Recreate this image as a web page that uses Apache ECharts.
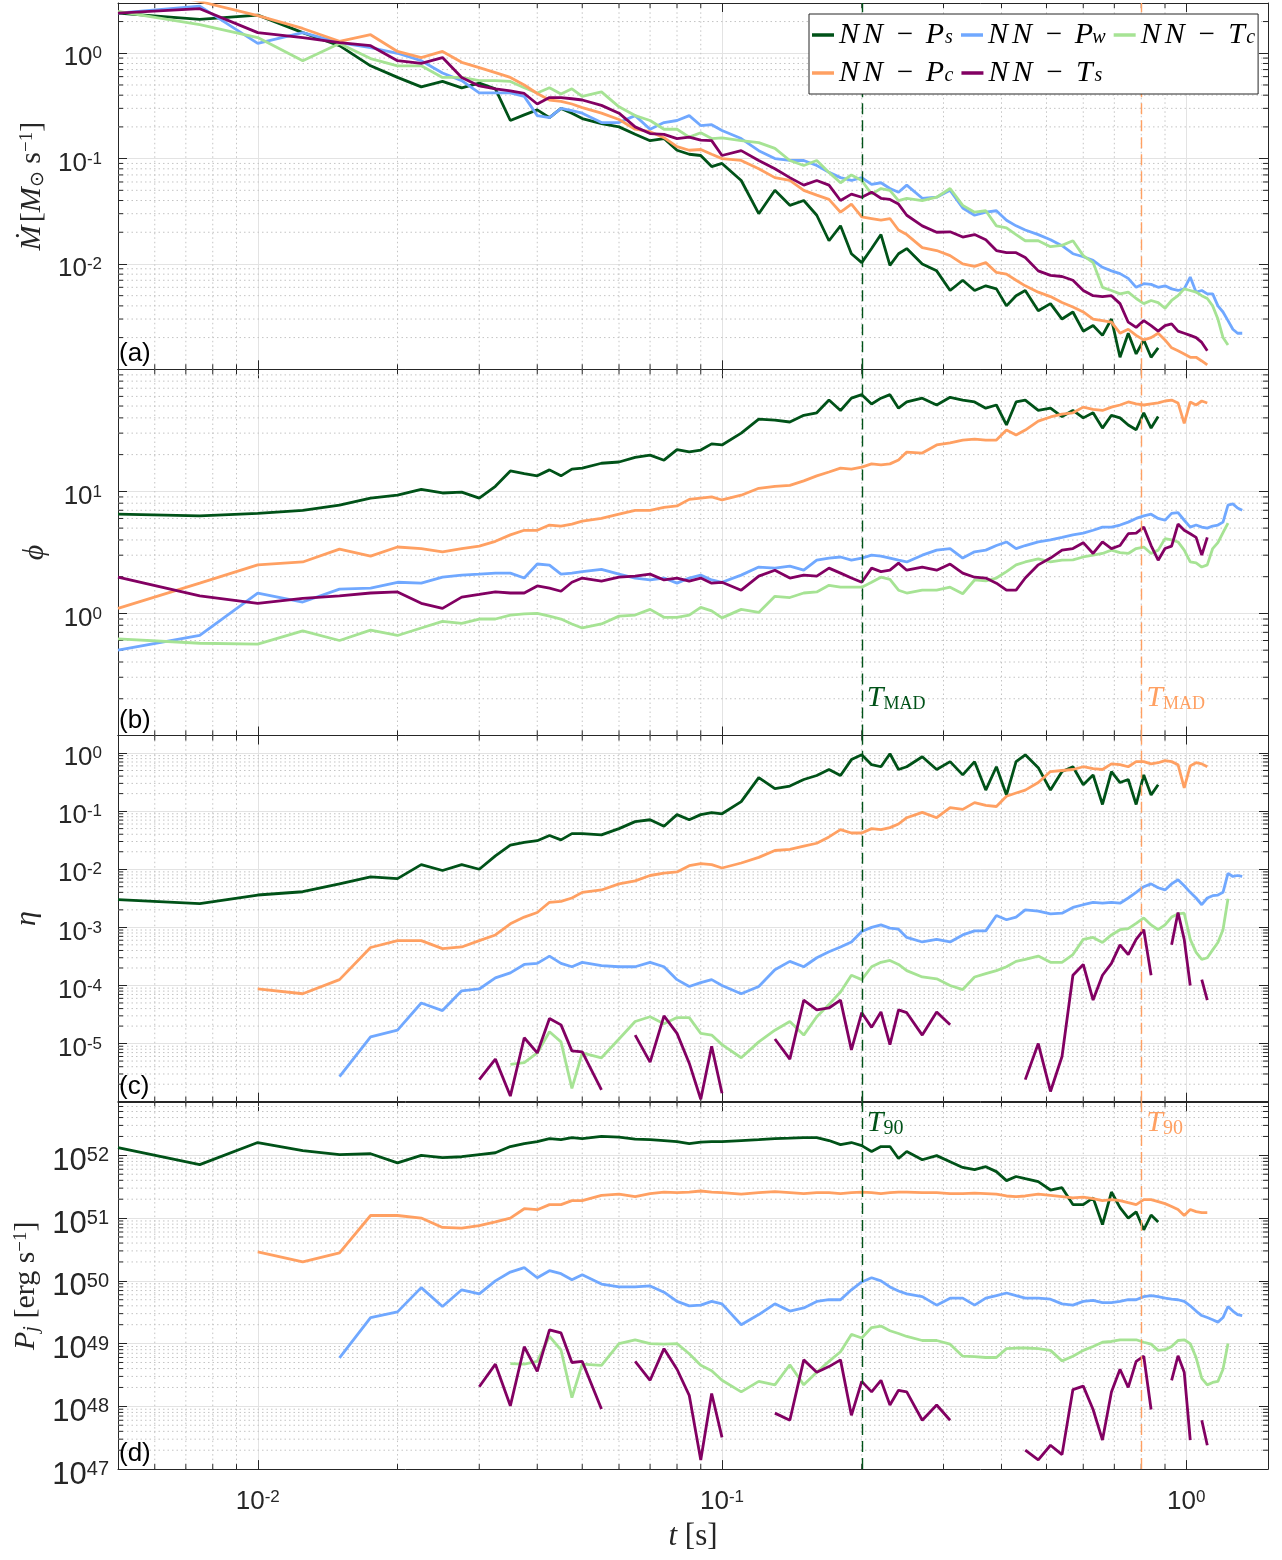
<!DOCTYPE html>
<html><head><meta charset="utf-8">
<script src="https://cdn.jsdelivr.net/npm/echarts@6/dist/echarts.min.js"></script>
<style>html,body{margin:0;padding:0;background:#fff}#c{width:1282px;height:1560px}</style>
</head><body><div id="c"></div>
<script>
// ---------- time samples [s] ----------
const tGrid = [0.005,0.0075,0.01,0.0125,0.015,0.0175,0.02,0.0225,0.025,0.0275,0.03,0.0325,0.035,0.0375,0.04,0.0425,0.045,0.0475,0.05,0.055,0.06,0.065,0.07,0.075,0.08,0.085,0.09,0.095,0.1,0.11,0.12,0.13,0.14,0.15,0.16,0.17,0.18,0.19,0.2,0.21,0.22,0.23,0.24,0.25,0.27,0.29,0.31,0.33,0.35,0.37,0.39,0.41,0.43,0.45,0.48,0.51,0.54,0.57,0.6,0.63,0.66,0.69,0.72,0.75,0.78,0.81,0.84,0.87,0.9,0.93,0.96,0.99,1.02,1.05,1.08,1.11,1.14,1.17,1.2,1.23,1.26,1.29,1.32];

// ---------- (a) accretion rate ----------
const a_Ps = [2.4,2.1,2.3,1.57,1.18,0.76,0.59,0.48,0.54,0.47, 0.52,0.46,0.23,0.26,0.29,0.245,0.30,0.27,0.24,0.215, 0.20,0.17,0.148,0.155,0.12,0.11,0.107,0.084,0.09,0.062, 0.030,0.050,0.036,0.040,0.029,0.0166,0.023,0.0125,0.0103,0.014, 0.019,0.0097,0.0125,0.014,0.010,0.0086,0.0056,0.007,0.0056,0.0062, 0.0058,0.004,0.005,0.0056,0.0036,0.0042,0.003,0.0035,0.0023,0.0026, 0.0021,0.003,0.0013,0.0022,0.0014,0.0019,0.0013,0.0016];
const a_Pw = [2.4,2.8,1.24,1.57,1.26,1.13,1.0,0.85,0.65,0.55, 0.42,0.42,0.42,0.39,0.256,0.245,0.30,0.285,0.27,0.22, 0.22,0.256,0.19,0.22,0.23,0.256,0.206,0.21,0.185,0.155, 0.119,0.10,0.096,0.096,0.086,0.074,0.066,0.062,0.066,0.057, 0.059,0.052,0.048,0.056,0.042,0.043,0.050,0.034,0.029,0.031, 0.032,0.026,0.023,0.021,0.019,0.017,0.0149,0.0125,0.0117,0.0108, 0.0093,0.0086,0.0081,0.0073,0.006,0.0065,0.0064,0.006,0.0062,0.0058, 0.0056,0.0058,0.0075,0.0054,0.0056,0.0052,0.0052,0.004,0.0035,0.0029, 0.0024,0.0022,0.0022];
const a_Tc = [2.5,1.87,1.41,0.85,1.24,0.89,0.76,0.76,0.59,0.59, 0.55,0.55,0.54,0.47,0.42,0.47,0.41,0.46,0.39,0.43, 0.31,0.256,0.23,0.19,0.19,0.16,0.176,0.155,0.157,0.148, 0.142,0.125,0.096,0.086,0.096,0.074,0.059,0.070,0.062,0.046, 0.052,0.050,0.040,0.042,0.040,0.043,0.052,0.036,0.031,0.032, 0.023,0.022,0.019,0.0166,0.0166,0.0146,0.015,0.0166,0.012,0.0103, 0.006,0.0056,0.0052,0.0054,0.0047,0.0042,0.0045,0.0043,0.0038,0.0045, 0.005,0.0058,0.0056,0.0054,0.005,0.0047,0.004,0.003,0.002,0.0017];
const a_Pc = [4.6,3.1,2.28,1.72,1.3,1.5,1.04,0.91,1.04,0.82, 0.73,0.655,0.59,0.50,0.415,0.36,0.35,0.33,0.305,0.27, 0.235,0.19,0.18,0.158,0.13,0.12,0.122,0.11,0.10,0.096, 0.08,0.066,0.062,0.05,0.045,0.041,0.031,0.037,0.028,0.027, 0.026,0.027,0.021,0.019,0.0143,0.0134,0.012,0.010,0.0095,0.0103, 0.0083,0.008,0.007,0.0062,0.0054,0.0049,0.0043,0.0039,0.0035,0.003, 0.0029,0.0028,0.0022,0.0024,0.0021,0.0019,0.002,0.0022,0.0019,0.0016, 0.0015,0.0014,0.0013,0.0013,0.0012,0.0011];
const a_Ts = [2.4,2.65,1.57,1.41,1.26,1.18,0.85,0.80,0.91,0.59, 0.49,0.46,0.44,0.415,0.33,0.38,0.38,0.37,0.36,0.32, 0.27,0.20,0.173,0.17,0.155,0.16,0.15,0.148,0.107,0.119, 0.096,0.08,0.066,0.056,0.062,0.056,0.04,0.046,0.043,0.048, 0.042,0.041,0.037,0.029,0.023,0.020,0.0202,0.018,0.019,0.017, 0.0134,0.0128,0.0128,0.0115,0.0086,0.0078,0.0076,0.007,0.0056,0.005, 0.0049,0.005,0.0042,0.0028,0.0025,0.0029,0.0026,0.0023,0.0026,0.0027, 0.0023,0.0022,0.0021,0.002,0.0018,0.0015];

// ---------- (b) magnetic flux phi ----------
const b_Ps = [6.5,6.3,6.6,7.0,7.7,8.8,9.3,10.4,9.7,9.85, 8.8,11.0,14.7,14.0,13.4,15.0,13.4,15.2,15.5,17.0, 17.4,19.0,19.8,18.0,22.0,21.1,21.8,24.5,24.0,30, 39,38.4,37,42,44,56,46,58,62,52, 58,62,48,54,58,51,59,56,54,48, 51,35,54,56,46,48,41,46,40,44, 33,42,40,35,32,44,33,41];
const b_Pw = [0.50,0.66,1.47,1.24,1.58,1.61,1.8,1.77,1.98,2.06, 2.1,2.14,2.14,1.95,2.54,2.49,2.1,2.14,2.2,2.3, 2.1,1.95,1.88,1.95,1.77,1.95,2.06,1.88,1.8,2.06, 2.4,2.35,2.44,2.26,2.73,2.84,2.9,2.73,2.84,3.0, 2.95,2.84,2.73,2.64,3.0,3.3,3.4,2.84,3.2,3.3, 3.6,3.85,3.4,3.6,3.85,4.0,4.2,4.4,4.55,4.8, 5.1,5.1,5.3,5.6,6.0,6.3,6.5,6.0,5.8,6.6, 6.7,5.8,5.1,5.3,5.1,5.0,5.2,5.3,5.6,7.7, 7.9,7.3,7.0];
const b_Tc = [0.62,0.57,0.56,0.72,0.60,0.73,0.66,0.76,0.86,0.83, 0.90,0.90,0.97,0.99,1.0,0.95,0.90,0.82,0.76,0.82, 0.95,0.97,1.08,0.93,0.93,0.97,1.12,1.05,0.92,1.08, 1.02,1.38,1.35,1.47,1.5,1.7,1.64,1.64,1.64,1.8, 1.98,1.9,1.55,1.47,1.55,1.55,1.64,1.45,1.88,1.85, 1.95,2.2,2.5,2.64,2.8,2.64,2.73,2.75,2.9,3.0, 3.1,3.3,3.15,3.1,3.4,3.5,3.1,3.3,4.1,4.0, 3.85,3.3,2.64,2.6,2.4,2.5,3.4,3.8,4.6,5.5];
const b_Pc = [1.1,1.77,2.5,2.64,3.36,2.95,3.5,3.4,3.2,3.4, 3.56,3.9,4.4,4.8,4.8,5.3,5.2,5.4,5.7,6.0, 6.5,7.0,7.0,7.4,7.6,8.6,8.8,9.0,8.5,9.3, 10.6,11.0,11.2,12.2,13.4,14.4,15.5,15.2,15.8,16.8, 16.5,16.8,18.1,21,20.6,24,25,26.3,26.8,26.3, 26.3,31.8,29,31.8,37.6,40.7,43,44,49,47, 46,49,51,54,52,51,52,53,55,56, 53,36,54,51,55,53];
const b_Ts = [1.98,1.39,1.21,1.33,1.39,1.47,1.5,1.21,1.1,1.36, 1.43,1.5,1.47,1.47,1.68,1.61,1.52,1.8,1.95,1.84, 1.98,2.02,2.1,1.88,1.95,1.84,1.95,1.77,1.8,1.55, 2.02,2.26,1.95,2.06,2.02,2.35,2.14,1.95,1.8,2.35, 2.2,2.26,2.58,2.26,2.4,2.26,2.54,2.14,1.98,1.95, 1.77,1.55,1.55,1.95,2.5,2.84,3.3,3.4,3.8,3.1, 3.85,3.4,3.6,4.5,4.55,5.1,3.6,2.73,3.4,3.56, 5.4,4.8,4.5,4.2,3.0,4.2];

// ---------- (c) efficiency eta ----------
const c_Ps = [3.0e-3,2.55e-3,3.6e-3,4.1e-3,5.6e-3,7.4e-3,6.9e-3,0.012,9.5e-3,0.012, 0.01,0.017,0.026,0.029,0.031,0.038,0.032,0.041,0.041,0.039, 0.05,0.066,0.071,0.055,0.087,0.071,0.087,0.094,0.09,0.146, 0.376,0.243,0.27,0.35,0.41,0.52,0.41,0.77,0.93,0.63, 0.58,0.97,0.52,0.58,0.86,0.52,0.71,0.42,0.71,0.23, 0.58,0.19,0.71,0.93,0.56,0.23,0.48,0.58,0.285,0.42, 0.13,0.48,0.31,0.35,0.13,0.42,0.19,0.285];
const c_Pw = [null,null,null,null,2.7e-6,1.3e-5,1.7e-5,5.0e-5,3.7e-5,8.1e-5, 8.7e-5,1.35e-4,1.65e-4,2.3e-4,2.4e-4,3.2e-4,2.4e-4,2.1e-4,2.5e-4,2.2e-4, 2.1e-4,2.1e-4,2.5e-4,2.1e-4,1.26e-4,9.6e-5,1.12e-4,1.26e-4,1.0e-4,7.2e-5, 9.6e-5,1.86e-4,2.6e-4,2.1e-4,3.0e-4,3.8e-4,4.6e-4,5.6e-4,8.5e-4,1.0e-3, 1.1e-3,9.7e-4,9.3e-4,6.7e-4,5.6e-4,6.2e-4,5.6e-4,7.4e-4,8.7e-4,8.7e-4, 1.6e-3,1.35e-3,1.5e-3,2.0e-3,1.9e-3,1.7e-3,1.75e-3,2.2e-3,2.45e-3,2.7e-3, 2.6e-3,2.7e-3,2.6e-3,3.2e-3,4.0e-3,5.0e-3,5.6e-3,4.8e-3,4.4e-3,5.6e-3, 6.6e-3,5.2e-3,4.0e-3,3.2e-3,2.45e-3,3.2e-3,3.5e-3,3.6e-3,4.0e-3,8.5e-3, 7.5e-3,7.8e-3,7.5e-3];
const c_Tc = [null,null,null,null,null,null,null,null,null,null, null,null,4.4e-6,4.7e-6,6.9e-6,1.6e-5,1.07e-5,1.7e-6,6.9e-6,5.7e-6, 1.2e-5,2.4e-5,2.9e-5,2.2e-5,2.8e-5,2.8e-5,1.5e-5,1.4e-5,9.6e-6,5.7e-6, 1.07e-5,1.7e-5,2.4e-5,1.4e-5,2.9e-5,4.7e-5,7.7e-5,1.5e-4,1.26e-4,2.1e-4, 2.5e-4,2.7e-4,2.3e-4,1.8e-4,1.4e-4,1.3e-4,1.0e-4,8.5e-5,1.4e-4,1.6e-4, 1.8e-4,2.1e-4,2.6e-4,2.8e-4,3.2e-4,2.5e-4,2.5e-4,3.4e-4,6.2e-4,6.7e-4, 5.5e-4,7.4e-4,9.1e-4,9.5e-4,1.17e-3,1.45e-3,1.1e-3,9.1e-4,1.1e-3,1.5e-3, 1.7e-3,1.75e-3,6.2e-4,3.7e-4,2.8e-4,3.0e-4,4.1e-4,5.5e-4,9.1e-4,3.1e-3];
const c_Pc = [null,null,8.7e-5,7.2e-5,1.26e-4,4.5e-4,5.9e-4,5.9e-4,4.3e-4,4.6e-4, 5.9e-4,7.4e-4,1.15e-3,1.5e-3,1.8e-3,2.7e-3,2.8e-3,3.2e-3,4.0e-3,4.4e-3, 5.6e-3,6.3e-3,7.8e-3,8.6e-3,9e-3,0.0115,0.0125,0.012,0.0105,0.0128, 0.016,0.021,0.022,0.025,0.028,0.036,0.048,0.042,0.042,0.05, 0.048,0.052,0.06,0.077,0.095,0.077,0.115,0.107,0.14,0.126, 0.12,0.18,0.205,0.23,0.31,0.48,0.5,0.52,0.58,0.54, 0.52,0.65,0.63,0.58,0.71,0.71,0.65,0.68,0.74,0.71, 0.63,0.25,0.6,0.68,0.65,0.58];
const c_Ts = [null,null,null,null,null,null,null,null,null,null, 2.4e-6,5.4e-6,1.25e-6,1.26e-5,6.9e-6,2.7e-5,2.1e-5,7.5e-6,7.2e-6,1.6e-6, null,1.4e-5,4.8e-6,3.0e-5,1.5e-5,4.6e-6,1.1e-6,9e-6,1.4e-6,null, null,1.2e-5,5.4e-6,5.6e-5,3.8e-5,4.1e-5,5.6e-5,7.8e-6,3.4e-5,1.9e-5, 3.5e-5,9.6e-6,3.8e-5,3.4e-5,1.4e-5,3.5e-5,2.1e-5,null,null,null, null,null,null,2.4e-6,1e-5,1.5e-6,6e-6,1.5e-4,2.3e-4,5.6e-5, 1.5e-4,2.4e-4,5e-4,3.4e-4,6.2e-4,9.1e-4,1.5e-4,null,null,5e-4, 1.8e-3,6.2e-4,1.0e-4,null,1.26e-4,5.6e-5];

// ---------- (d) jet power [erg/s] ----------
const d_Ps = [1.33e52,7.1e51,1.6e52,1.19e52,1.03e52,1.06e52,7.6e51,1.0e52,9.2e51,9.5e51, 1.03e52,1.1e52,1.38e52,1.54e52,1.65e52,1.85e52,1.78e52,1.92e52,1.85e52,2.0e52, 1.95e52,1.81e52,1.78e52,1.72e52,1.65e52,1.54e52,1.62e52,1.65e52,1.65e52,1.72e52, 1.78e52,1.85e52,1.88e52,1.92e52,1.92e52,1.72e52,1.48e52,1.6e52,1.43e52,1.15e52, 1.38e52,1.38e52,8.9e51,1.15e52,8.5e51,9.9e51,7.9e51,6.4e51,5.9e51,6.6e51, 5.5e51,3.95e51,4.6e51,4.25e51,3.8e51,2.8e51,3.05e51,1.64e51,1.64e51,2.1e51, 7.9e50,2.6e51,1.47e51,1.0e51,1.26e51,6.5e50,1.12e51,8.7e50];
const d_Pw = [null,null,null,null,5.9e48,2.6e49,3.2e49,7.8e49,3.9e49,7.2e49, 6.2e49,1.0e50,1.38e50,1.62e50,1.12e50,1.45e50,1.3e50,1.04e50,1.25e50,8.9e49, 8.0e49,8.0e49,8.3e49,6.6e49,4.7e49,4.0e49,4.1e49,4.7e49,4.3e49,2.0e49, 2.9e49,4.3e49,3.3e49,3.7e49,4.7e49,5.0e49,5.0e49,7.2e49,9.6e49,1.12e50, 1.0e50,8.0e49,6.9e49,6.2e49,5.6e49,4.1e49,5.3e49,5.3e49,4.1e49,5.3e49, 5.8e49,6.4e49,5.8e49,5.3e49,5.3e49,5.1e49,4.3e49,4.1e49,4.7e49,4.9e49, 4.5e49,4.5e49,4.7e49,5.0e49,5.0e49,5.6e49,5.8e49,5.6e49,5.3e49,5.1e49, 5.0e49,4.7e49,4.0e49,3.3e49,2.8e49,2.6e49,2.4e49,2.2e49,2.6e49,3.9e49, 3.3e49,2.9e49,2.8e49];
const d_Tc = [null,null,null,null,null,null,null,null,null,null, null,null,4.8e48,4.7e48,5.2e48,1.3e49,7.9e48,1.38e48,4.7e48,4.5e48, 1.0e49,1.15e49,1.0e49,9.8e48,1.0e49,6.9e48,4.5e48,3.7e48,2.6e48,1.7e48, 2.5e48,2.2e48,4.6e48,2.2e48,3.5e48,5.2e48,7.4e48,1.4e49,1.23e49,1.8e49, 1.9e49,1.6e49,1.45e49,1.3e49,1.12e49,1.12e49,9.8e48,6.3e48,6.2e48,6.0e48, 6.0e48,8.3e48,8.5e48,8.5e48,8.3e48,7.8e48,5.3e48,6.3e48,7.8e48,9e48, 1.05e49,1.08e49,1.15e49,1.15e49,1.15e49,1.05e49,9.8e48,7.8e48,8.0e48,9e48, 1.12e49,1.15e49,1.0e49,6.0e48,2.8e48,2.2e48,2.4e48,2.5e48,3.9e48,1.0e49];
const d_Pc = [null,null,2.9e50,2.0e50,2.8e50,1.1e51,1.1e51,1.0e51,7.1e50,6.9e50, 7.6e50,8.7e50,1.0e51,1.41e51,1.36e51,1.64e51,1.64e51,1.9e51,1.9e51,2.3e51, 2.4e51,2.2e51,2.45e51,2.6e51,2.55e51,2.6e51,2.7e51,2.6e51,2.55e51,2.4e51, 2.55e51,2.65e51,2.55e51,2.45e51,2.55e51,2.55e51,2.45e51,2.55e51,2.6e51,2.55e51, 2.45e51,2.55e51,2.6e51,2.6e51,2.55e51,2.55e51,2.45e51,2.45e51,2.5e51,2.45e51, 2.4e51,2.25e51,2.2e51,2.25e51,2.4e51,2.3e51,2.2e51,2.1e51,2.15e51,2.05e51, 1.9e51,1.97e51,1.9e51,1.76e51,1.64e51,1.97e51,1.97e51,1.83e51,1.7e51,1.53e51, 1.37e51,1.1e51,1.37e51,1.27e51,1.22e51,1.22e51];
const d_Ts = [null,null,null,null,null,null,null,null,null,null, 2.05e48,4.7e48,1.02e48,8.9e48,3.6e48,1.65e49,1.48e49,5.0e48,5.2e48,9.1e47, null,5.2e48,2.6e48,8.3e48,3.9e48,1.5e48,1.4e47,1.6e48,3.2e47,null, null,7.8e47,6.0e47,5.5e48,3.5e48,4.3e48,5.5e48,7.2e47,2.5e48,1.7e48, 2.6e48,1.05e48,1.8e48,1.7e48,6.0e47,1.05e48,6.0e47,null,null,null, null,null,null,2.0e47,1.4e47,2.4e47,1.7e47,1.85e48,2.1e48,8.9e47, 2.9e47,1.7e48,3.9e48,2.0e48,5.2e48,6.3e48,8.9e47,null,null,2.6e48, 6.4e48,3.5e48,2.9e47,null,6.0e47,2.4e47];

// ---------- reference times ----------
const tMarkPs = 0.2;   // T_MAD / T_90 of NN-Ps
const tMarkPc = 0.8;   // T_MAD / T_90 of NN-Pc

// ---------- tick label exponents ----------
const xTickExps = [-2,-1,0];
const aTickExps = [-2,-1,0];
const bTickExps = [0,1];
const cTickExps = [-5,-4,-3,-2,-1,0];
const dTickExps = [47,48,49,50,51,52];

// ---------- styling / layout ----------
const colors = {Ps:'#005218', Pw:'#70a8ff', Tc:'#a6e394', Pc:'#ffa062', Ts:'#820062'};
const X_MIN = 0.005, X_MAX = 1.5;
const FRAME = '#262626';
const panels = [
  {top:3,     height:366.3, ymin:1e-3, ymax:3,    exps:aTickExps, lab:'(a)', labFs:26, labMargin:16, nameGap:62,
   name:'{i|Ṁ} {r|[}{i|M}{sub|⊙}{r| s}{sup|−1}{r|]}', data:{Ps:a_Ps,Pw:a_Pw,Tc:a_Tc,Pc:a_Pc,Ts:a_Ts}},
  {top:369.3, height:366.2, ymin:0.1,  ymax:100,  exps:bTickExps, lab:'(b)', labFs:26, labMargin:16, nameGap:68,
   name:'{i|ϕ}', data:{Ps:b_Ps,Pw:b_Pw,Tc:b_Tc,Pc:b_Pc,Ts:b_Ts}},
  {top:735.5, height:366.2, ymin:1e-6, ymax:2,    exps:cTickExps, lab:'(c)', labFs:26, labMargin:16, nameGap:76,
   name:'{i|η}', data:{Ps:c_Ps,Pw:c_Pw,Tc:c_Tc,Pc:c_Pc,Ts:c_Ts}},
  {top:1102.3,height:366.8, ymin:1e47, ymax:7e52, exps:dTickExps, lab:'(d)', labFs:31, labMargin:9, nameGap:64,
   name:'{i|P}{subi|j}{r| [erg s}{sup|−1}{r|]}', data:{Ps:d_Ps,Pw:d_Pw,Tc:d_Tc,Pc:d_Pc,Ts:d_Ts}}
];
const seriesOrder = ['Ps','Pw','Tc','Pc','Ts'];

const SANS = 'Liberation Sans';
const SERIF = 'Liberation Serif';

function isExp(v, list){
  const l = Math.log10(v); const e = Math.round(l);
  return (Math.abs(l - e) < 1e-6 && list.indexOf(e) >= 0) ? e : null;
}
function labelRich(fs){
  return {
    b:{fontFamily:SANS, fontSize:fs, lineHeight:fs, color:FRAME},
    e:{fontFamily:SANS, fontSize:Math.round(fs*0.66), lineHeight:Math.round(fs*0.55), verticalAlign:'top', color:FRAME}
  };
}
const nameRich = {
  i:{fontFamily:SERIF, fontStyle:'italic', fontSize:30, lineHeight:30, color:FRAME},
  r:{fontFamily:SERIF, fontSize:30, lineHeight:30, color:FRAME},
  sub:{fontFamily:SERIF, fontSize:19, lineHeight:18, verticalAlign:'bottom', color:FRAME},
  subi:{fontFamily:SERIF, fontStyle:'italic', fontSize:20, lineHeight:18, verticalAlign:'bottom', color:FRAME},
  sup:{fontFamily:SERIF, fontSize:19, lineHeight:14, verticalAlign:'top', color:FRAME}
};

const grids = [], xAxes = [], yAxes = [], series = [];
panels.forEach((p, g) => {
  grids.push({left:118, right:14, top:p.top, height:p.height, containLabel:false, outerBoundsMode:'none', show:false});
});
// bottom x axes
panels.forEach((p, g) => {
  const last = g === panels.length - 1;
  xAxes.push({
    type:'log', logBase:10, gridIndex:g, min:X_MIN, max:X_MAX, position:'bottom',
    axisLine:{show:true, onZero:false, lineStyle:{color:FRAME, width:1}},
    axisTick:{show:true, inside:true, length:9, lineStyle:{color:FRAME, width:1}},
    splitLine:{show:true, lineStyle:{color:'#e3e3e3', width:1}},
    axisLabel: last ? {show:true, margin:20, showMinLabel:true, showMaxLabel:true,
      formatter:(v)=>{const e = isExp(v, xTickExps); return e===null ? '' : '{b|10}{e|' + e + '}';},
      rich:labelRich(26)} : {show:false},
    name: last ? '{i|t}{r| [s]}' : '', nameLocation:'middle', nameGap:52,
    nameTextStyle:{rich:{i:{fontFamily:SERIF, fontStyle:'italic', fontSize:31, lineHeight:31, color:FRAME},
                         r:{fontFamily:SERIF, fontSize:31, lineHeight:31, color:FRAME}}}
  });
});
// top x axes
panels.forEach((p, g) => {
  xAxes.push({
    type:'log', logBase:10, gridIndex:g, min:X_MIN, max:X_MAX, position:'top',
    axisLine:{show:true, onZero:false, lineStyle:{color:FRAME, width:1}},
    axisTick:{show:true, inside:true, length:9, lineStyle:{color:FRAME, width:1}},
    splitLine:{show:false}, axisLabel:{show:false}
  });
});
// left y axes
panels.forEach((p, g) => {
  yAxes.push({
    type:'log', logBase:10, gridIndex:g, min:p.ymin, max:p.ymax, position:'left',
    axisLine:{show:true, onZero:false, lineStyle:{color:FRAME, width:1}},
    axisTick:{show:true, inside:true, length:9, lineStyle:{color:FRAME, width:1}},
    splitLine:{show:true, lineStyle:{color:'#e3e3e3', width:1}},
    axisLabel:{show:true, margin:p.labMargin, showMinLabel:true, showMaxLabel:true, padding:[Math.round(p.labFs*0.38),0,0,0],
      formatter:(v)=>{const e = isExp(v, p.exps); return e===null ? '' : '{b|10}{e|' + e + '}';},
      rich:labelRich(p.labFs)},
    name:p.name, nameLocation:'middle', nameGap:p.nameGap, nameRotate:90,
    nameTextStyle:{rich:nameRich}
  });
});
// right y axes
panels.forEach((p, g) => {
  yAxes.push({
    type:'log', logBase:10, gridIndex:g, min:p.ymin, max:p.ymax, position:'right',
    axisLine:{show:true, onZero:false, lineStyle:{color:FRAME, width:1}},
    axisTick:{show:true, inside:true, length:9, lineStyle:{color:FRAME, width:1}},
    splitLine:{show:false}, axisLabel:{show:false}
  });
});

// minor grid + minor ticks (2..9 x 10^n), positioned through the axes
function minorData(p){
  const d = [];
  for (let e = -4; e <= 1; e++) for (let k = 2; k <= 9; k++) {
    const v = k * Math.pow(10, e);
    if (v > X_MIN * 1.0001 && v < X_MAX * 0.9999) d.push([v, p.ymin, 1]);
  }
  const e0 = Math.floor(Math.log10(p.ymin)) - 1, e1 = Math.ceil(Math.log10(p.ymax)) + 1;
  for (let e = e0; e <= e1; e++) for (let k = 2; k <= 9; k++) {
    const v = k * Math.pow(10, e);
    if (v > p.ymin * 1.0001 && v < p.ymax * 0.9999) d.push([X_MIN, v, 0]);
  }
  return d;
}
panels.forEach((p, g) => {
  series.push({
    type:'custom', xAxisIndex:g, yAxisIndex:g, silent:true, z:1, clip:false, animation:false,
    data:minorData(p),
    renderItem:(params, api) => {
      const kind = api.value(2);
      const tl = 5;
      const dot = {stroke:'#c4c4c4', lineWidth:1, lineDash:[1.5,3]};
      const tk = {stroke:FRAME, lineWidth:1};
      if (kind === 1) {
        const x = api.value(0);
        const a = api.coord([x, p.ymin]), b = api.coord([x, p.ymax]);
        return {type:'group', children:[
          {type:'line', shape:{x1:a[0], y1:a[1], x2:b[0], y2:b[1]}, style:dot},
          {type:'line', shape:{x1:a[0], y1:a[1], x2:a[0], y2:a[1]-tl}, style:tk},
          {type:'line', shape:{x1:b[0], y1:b[1], x2:b[0], y2:b[1]+tl}, style:tk}
        ]};
      } else {
        const y = api.value(1);
        const a = api.coord([X_MIN, y]), b = api.coord([X_MAX, y]);
        return {type:'group', children:[
          {type:'line', shape:{x1:a[0], y1:a[1], x2:b[0], y2:b[1]}, style:dot},
          {type:'line', shape:{x1:a[0], y1:a[1], x2:a[0]+tl, y2:a[1]}, style:tk},
          {type:'line', shape:{x1:b[0], y1:b[1], x2:b[0]-tl, y2:b[1]}, style:tk}
        ]};
      }
    }
  });
});

// data series
panels.forEach((p, g) => {
  seriesOrder.forEach((k) => {
    const vals = p.data[k];
    series.push({
      type:'line', name:'NN-' + k, xAxisIndex:g, yAxisIndex:g, z:3,
      data: vals.map((v, i) => [tGrid[i], v]),
      symbol:'none', connectNulls:false, silent:true, animation:false,
      lineStyle:{color:colors[k], width:2.8}, itemStyle:{color:colors[k]},
      emphasis:{disabled:true}
    });
  });
  // vertical dashed reference lines
  series.push({
    type:'line', name:'ref' + g, xAxisIndex:g, yAxisIndex:g, z:4, data:[], silent:true, animation:false,
    markLine:{symbol:'none', silent:true, animation:false, label:{show:false},
      data:[{xAxis:tMarkPs, lineStyle:{color:colors.Ps, type:[11,6], width:1.4}},
            {xAxis:tMarkPc, lineStyle:{color:colors.Pc, type:[11,6], width:1.4}}]}
  });
});

const legendFmt = {
  'NN-Ps':'{n1|N}{n2|N}{m|−}{v|P}{s|s}',
  'NN-Pw':'{n1|N}{n2|N}{m|−}{v|P}{sw|w}',
  'NN-Tc':'{n1|N}{n2|N}{m|−}{v|T}{s|c}',
  'NN-Pc':'{n1|N}{n2|N}{m|−}{v|P}{s|c}',
  'NN-Ts':'{n1|N}{n2|N}{m|−}{v|T}{s|s}'
};

const option = {
  animation:false,
  backgroundColor:'#ffffff',
  grid:grids, xAxis:xAxes, yAxis:yAxes, series:series,
  legend:{
    data:['NN-Ps','NN-Pw','NN-Tc','NN-Pc','NN-Ts'],
    left:809, top:14, width:452, padding:[6,3,6,3], itemGap:8,
    icon:'rect', itemWidth:22, itemHeight:3.5,
    borderColor:FRAME, borderWidth:1, backgroundColor:'#ffffff', z:20,
    selectedMode:false,
    formatter:(name) => legendFmt[name],
    textStyle:{rich:{
      n1:{fontFamily:SERIF, fontStyle:'italic', fontSize:30, lineHeight:26, width:24, color:'#000'},
      n2:{fontFamily:SERIF, fontStyle:'italic', fontSize:30, lineHeight:26, width:22, color:'#000'},
      m:{fontFamily:SERIF, fontSize:29, lineHeight:26, width:40, align:'center', color:'#000'},
      v:{fontFamily:SERIF, fontStyle:'italic', fontSize:30, lineHeight:26, width:20, color:'#000'},
      s:{fontFamily:SERIF, fontStyle:'italic', fontSize:20, lineHeight:16, width:8, verticalAlign:'bottom', color:'#000'},
      sw:{fontFamily:SERIF, fontStyle:'italic', fontSize:20, lineHeight:16, width:10, verticalAlign:'bottom', color:'#000'}
    }}
  }
};

const chart = echarts.init(document.getElementById('c'), null, {renderer:'canvas'});
chart.setOption(option);

// annotations positioned through the axes
const xPs = chart.convertToPixel({xAxisIndex:1}, tMarkPs);
const xPc = chart.convertToPixel({xAxisIndex:1}, tMarkPc);
function tLabel(x, y, sub, color, subFs){
  return {type:'text', x:x + 5, y:y, z:30, silent:true,
    style:{text:'{T|T}{s|' + sub + '}', verticalAlign:'middle', align:'left',
      rich:{T:{fontFamily:SERIF, fontStyle:'italic', fontSize:30, lineHeight:30, fill:color, color:color},
            s:{fontFamily:SERIF, fontSize:subFs, lineHeight:15, verticalAlign:'bottom', fill:color, color:color}}}};
}
const graphics = [
  tLabel(xPs, panels[1].top + panels[1].height - 37, 'MAD', colors.Ps, 18),
  tLabel(xPc, panels[1].top + panels[1].height - 37, 'MAD', colors.Pc, 18),
  tLabel(xPs, panels[3].top + 21, '90', colors.Ps, 20),
  tLabel(xPc, panels[3].top + 21, '90', colors.Pc, 20)
];
panels.forEach((p) => {
  graphics.push({type:'text', x:119, y:p.top + p.height - 15, z:30, silent:true,
    style:{text:p.lab, fontFamily:SANS, fontSize:26, fill:'#000', verticalAlign:'middle', align:'left'}});
});
chart.setOption({graphic:graphics});
</script></body></html>
